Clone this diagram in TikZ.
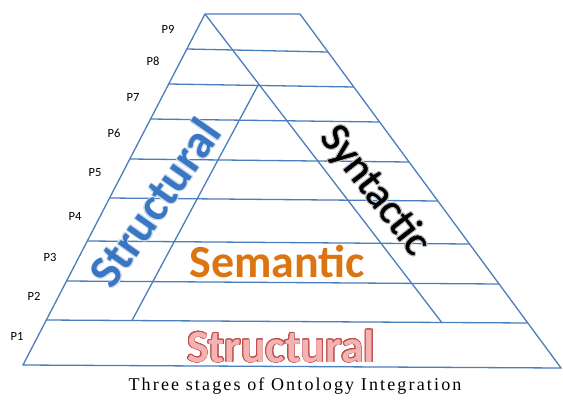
\documentclass[tikz,border=0pt]{standalone}
\usepackage{fontspec}
\usepackage{tikz}
\usetikzlibrary{calc}
\usepackage{contour}
\setmainfont{Carlito}
\newfontfamily\captionfont[LetterSpace=12]{Liberation Serif}
\newfontfamily\synfont[FakeBold=1]{Carlito}
\definecolor{gridblue}   {HTML}{4A7DBB}
\definecolor{structblue} {HTML}{3A76C2}
\definecolor{semorange}  {HTML}{DC7412}
\definecolor{pinkfill}   {HTML}{F2B3B2}
\definecolor{pinkedge}   {HTML}{C0504D}
\contournumber{16}

\begin{document}
\begin{tikzpicture}[
  x=1pt,y=-1pt,
  edge/.style={draw=gridblue,line width=1.3pt},
  plabel/.style={font=\fontsize{12.5}{14}\selectfont,text=black},
  bigword/.style={font=\fontsize{46}{50}\selectfont\bfseries,inner sep=0pt}
]
\useasboundingbox (0,0) rectangle (563,408);
% Pyramid corners
\coordinate (tl) at (205,14);
\coordinate (tr) at (300,14);
\coordinate (bl) at (23,365);
\coordinate (br) at (561,368);
\draw[edge] (tl) -- (tr) -- (br) -- (bl) -- cycle;
% Level lines
\foreach \y [count=\i] in {320,281,241,198,159,119,84,49}{
  \pgfmathsetmacro{\xl}{205-0.5185*(\y-14)}
  \pgfmathsetmacro{\xr}{300+0.737*(\y+3-14)}
  \coordinate (l\i) at (\xl,\y);
  \coordinate (r\i) at (\xr,\y+3);
  \draw[edge] (l\i) -- (r\i);
}
% Semantic triangle
\coordinate (apex) at (258.7,84);
\coordinate (semL) at (132,320.5);
\coordinate (semR) at (442,322.8);
\draw[edge] (tl) -- (semR);
\draw[edge] (semL) -- (apex);
% Level labels
\foreach \i/\x/\y in {1/17/336,2/34/296,3/50/257,4/75/216,5/95/173,
                      6/114/133,7/133/97,8/153/61,9/168/29}
  \node[plabel] (p\i) at (\x,\y) {P\i};
% Stage words
\node[bigword,font=\fontsize{47}{52}\selectfont\bfseries,text=structblue,rotate=55] (strucL) at (155,203)
  {\contourlength{0.8pt}\contour{structblue!25}{Structural}};
\node[font=\synfont\fontsize{42}{46}\selectfont,inner sep=0pt,rotate=-52] (synt) at (374,191)
  {\contourlength{1.1pt}\contour{black!25}{Syntactic}};
\node[bigword,text=semorange,anchor=base] (sem) at (277,277) {Semantic};
\node[bigword,text=pinkfill,anchor=base] (strucB) at (281,362)
  {\contourlength{0.9pt}\contour{pinkedge}{Structural}};
% Caption
\node[font=\captionfont\fontsize{18}{21}\selectfont,anchor=base] (cap) at (295,390)
  {Three stages of Ontology Integration};
\end{tikzpicture}
\end{document}
